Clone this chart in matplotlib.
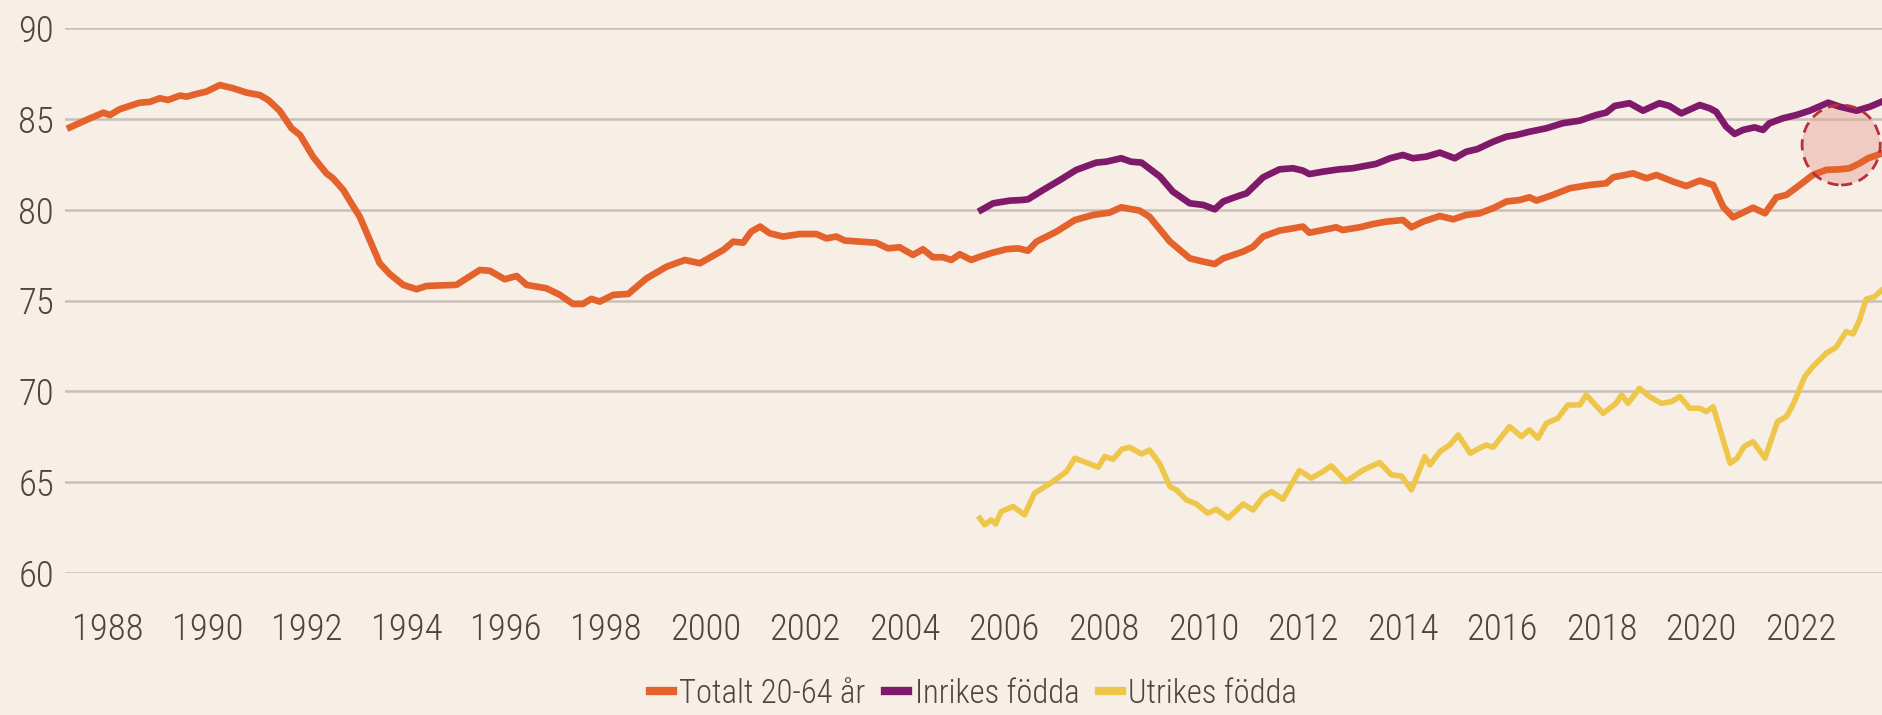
import matplotlib
matplotlib.use("Agg")
import matplotlib.pyplot as plt
from matplotlib import font_manager
from matplotlib.patches import Ellipse
from matplotlib.lines import Line2D

# Totalt 20-64 år (decimal year, percent)
tot_x = [1987.24, 1987.57, 1987.91, 1988.04, 1988.24, 1988.64, 1988.84, 1989.04, 1989.21, 1989.45,
         1989.58, 1989.78, 1989.98, 1990.25, 1990.52, 1990.79, 1991.05, 1991.22, 1991.45, 1991.69,
         1991.86, 1992.12, 1992.39, 1992.52, 1992.73, 1992.89, 1993.06, 1993.26, 1993.46, 1993.66,
         1993.93, 1994.20, 1994.40, 1994.67, 1995.00, 1995.47, 1995.67, 1995.97, 1996.21, 1996.41,
         1996.81, 1997.08, 1997.34, 1997.54, 1997.71, 1997.88, 1998.15, 1998.45, 1998.82, 1999.22,
         1999.59, 1999.89, 2000.36, 2000.56, 2000.76, 2000.92, 2001.10, 2001.29, 2001.56, 2001.90,
         2002.23, 2002.43, 2002.63, 2002.80, 2003.10, 2003.43, 2003.67, 2003.90, 2004.17, 2004.37,
         2004.57, 2004.77, 2004.94, 2005.11, 2005.34, 2005.51, 2005.78, 2006.04, 2006.28, 2006.48,
         2006.65, 2007.05, 2007.42, 2007.79, 2008.12, 2008.35, 2008.72, 2008.92, 2009.33, 2009.73,
         2010.00, 2010.23, 2010.40, 2010.80, 2011.00, 2011.20, 2011.53, 2011.80, 2012.00, 2012.13,
         2012.40, 2012.67, 2012.80, 2013.14, 2013.41, 2013.67, 2014.01, 2014.18, 2014.41, 2014.75,
         2015.02, 2015.28, 2015.55, 2015.82, 2016.09, 2016.35, 2016.55, 2016.69, 2017.02, 2017.36,
         2017.76, 2018.09, 2018.23, 2018.63, 2018.90, 2019.10, 2019.44, 2019.70, 2019.97, 2020.24,
         2020.44, 2020.64, 2020.84, 2021.04, 2021.28, 2021.51, 2021.71, 2021.98, 2022.24, 2022.51,
         2022.78, 2022.98, 2023.18, 2023.35, 2023.63]
tot_y = [84.53, 84.94, 85.34, 85.21, 85.53, 85.89, 85.93, 86.13, 86.04, 86.28,
         86.22, 86.37, 86.50, 86.86, 86.68, 86.44, 86.31, 86.04, 85.45, 84.48,
         84.11, 82.92, 82.00, 81.73, 81.08, 80.35, 79.61, 78.33, 77.05, 76.46,
         75.86, 75.62, 75.80, 75.83, 75.86, 76.68, 76.64, 76.17, 76.35, 75.86,
         75.67, 75.31, 74.81, 74.81, 75.09, 74.94, 75.31, 75.36, 76.22, 76.86,
         77.23, 77.05, 77.78, 78.24, 78.18, 78.79, 79.07, 78.70, 78.52, 78.66,
         78.66, 78.42, 78.52, 78.30, 78.24, 78.18, 77.87, 77.93, 77.51, 77.82,
         77.38, 77.38, 77.23, 77.55, 77.23, 77.41, 77.64, 77.82, 77.87, 77.74,
         78.24, 78.79, 79.43, 79.71, 79.84, 80.13, 79.95, 79.61, 78.24, 77.32,
         77.14, 77.01, 77.32, 77.69, 77.96, 78.52, 78.85, 78.97, 79.07, 78.73,
         78.88, 79.03, 78.88, 79.03, 79.21, 79.34, 79.43, 79.03, 79.34, 79.65,
         79.47, 79.71, 79.80, 80.08, 80.45, 80.53, 80.68, 80.50, 80.81, 81.18,
         81.36, 81.45, 81.78, 82.00, 81.73, 81.91, 81.54, 81.30, 81.60, 81.36,
         80.16, 79.58, 79.84, 80.11, 79.80, 80.68, 80.81, 81.36, 81.91, 82.19,
         82.22, 82.28, 82.55, 82.83, 83.10]

# Inrikes födda
inr_x = [2005.54, 2005.78, 2006.12, 2006.35, 2006.48, 2006.78, 2007.12, 2007.45, 2007.85, 2008.05,
         2008.35, 2008.55, 2008.76, 2009.13, 2009.39, 2009.73, 2010.00, 2010.23, 2010.40, 2010.67,
         2010.87, 2011.20, 2011.53, 2011.80, 2012.00, 2012.13, 2012.40, 2012.73, 2013.00, 2013.47,
         2013.75, 2014.01, 2014.21, 2014.48, 2014.75, 2015.05, 2015.28, 2015.50, 2015.82, 2016.09,
         2016.29, 2016.55, 2016.89, 2017.22, 2017.56, 2017.89, 2018.09, 2018.26, 2018.56, 2018.83,
         2019.16, 2019.36, 2019.60, 2019.97, 2020.17, 2020.30, 2020.50, 2020.67, 2020.84, 2021.07,
         2021.24, 2021.37, 2021.64, 2021.91, 2022.18, 2022.55, 2022.78, 2023.12, 2023.39, 2023.63]
inr_y = [79.98, 80.35, 80.50, 80.53, 80.57, 81.08, 81.63, 82.19, 82.59, 82.64,
         82.83, 82.64, 82.59, 81.82, 80.99, 80.35, 80.26, 80.02, 80.45, 80.72,
         80.90, 81.78, 82.22, 82.28, 82.15, 81.96, 82.09, 82.22, 82.28, 82.52,
         82.83, 83.01, 82.83, 82.92, 83.14, 82.83, 83.19, 83.33, 83.74, 84.02,
         84.11, 84.29, 84.48, 84.76, 84.90, 85.21, 85.34, 85.71, 85.86, 85.45,
         85.86, 85.71, 85.30, 85.76, 85.58, 85.39, 84.57, 84.17, 84.39, 84.53,
         84.39, 84.76, 85.03, 85.21, 85.45, 85.89, 85.67, 85.45, 85.67, 85.95]

# Utrikes födda
utr_x = [2005.51, 2005.61, 2005.74, 2005.83, 2005.94, 2006.18, 2006.41, 2006.61, 2006.98, 2007.25,
         2007.42, 2007.65, 2007.89, 2008.02, 2008.19, 2008.36, 2008.52, 2008.76, 2008.92, 2009.12,
         2009.33, 2009.46, 2009.66, 2009.86, 2010.09, 2010.26, 2010.50, 2010.80, 2011.00, 2011.20,
         2011.37, 2011.60, 2011.93, 2012.17, 2012.40, 2012.57, 2012.87, 2013.21, 2013.54, 2013.78,
         2013.98, 2014.18, 2014.45, 2014.55, 2014.75, 2014.95, 2015.12, 2015.36, 2015.55, 2015.68,
         2015.82, 2016.15, 2016.39, 2016.55, 2016.72, 2016.89, 2017.12, 2017.32, 2017.56, 2017.69,
         2018.03, 2018.29, 2018.40, 2018.53, 2018.76, 2018.96, 2019.20, 2019.40, 2019.57, 2019.77,
         2019.97, 2020.10, 2020.24, 2020.44, 2020.58, 2020.72, 2020.86, 2021.04, 2021.16, 2021.28,
         2021.53, 2021.71, 2021.84, 2022.08, 2022.24, 2022.51, 2022.71, 2022.91, 2023.05, 2023.18,
         2023.31, 2023.48, 2023.63]
utr_y = [63.02, 62.65, 62.92, 62.70, 63.38, 63.66, 63.20, 64.39, 65.03, 65.58,
         66.32, 66.08, 65.82, 66.41, 66.26, 66.81, 66.92, 66.55, 66.77, 66.04,
         64.76, 64.57, 64.02, 63.80, 63.29, 63.51, 63.02, 63.80, 63.47, 64.20,
         64.48, 64.06, 65.64, 65.22, 65.58, 65.90, 65.03, 65.67, 66.08, 65.40,
         65.34, 64.57, 66.41, 65.95, 66.68, 67.05, 67.60, 66.59, 66.87, 67.05,
         66.92, 68.06, 67.51, 67.88, 67.42, 68.24, 68.52, 69.25, 69.25, 69.80,
         68.79, 69.34, 69.80, 69.34, 70.17, 69.71, 69.34, 69.43, 69.71, 69.07,
         69.07, 68.88, 69.15, 67.32, 66.04, 66.32, 66.96, 67.23, 66.78, 66.32,
         68.33, 68.61, 69.25, 70.81, 71.36, 72.10, 72.43, 73.29, 73.16, 73.93,
         75.07, 75.21, 75.58]

year_ticks = list(range(1988, 2023, 2))
value_ticks = [60, 65, 70, 75, 80, 85, 90]
labels = ["Totalt 20-64 år", "Inrikes födda", "Utrikes födda"]

# highlight circle (centre year, centre value)
circle_x, circle_y = 2022.81, 83.56

bg = "#f7eee6"
text_col = "#4f4441"
col_tot = "#e4622b"
col_inr = "#7f1a6a"
col_utr = "#eec64a"

available = {f.name for f in font_manager.fontManager.ttflist}
family = "DejaVu Sans"
for cand in ["Roboto Condensed", "Liberation Sans Narrow", "Roboto"]:
    if cand in available:
        family = cand
        break
plt.rcParams["font.family"] = family
plt.rcParams["font.weight"] = "light"

fig = plt.figure(figsize=(18.82, 7.15), dpi=100, facecolor=bg)
ax = fig.add_axes([65 / 1882, 1 - 573 / 715, 1 - 65 / 1882, (573 - 28) / 715])
ax.set_facecolor(bg)

ax.set_xlim(1987.14, 2023.63)
ax.set_ylim(60, 90)
ax.set_xticks(year_ticks)
ax.set_yticks(value_ticks)
ax.grid(axis="y", color="#c8bfb8", linewidth=1.8)
ax.grid(axis="x", visible=False)
ax.set_axisbelow(True)
for s in ax.spines.values():
    s.set_visible(False)
ax.tick_params(axis="both", length=0, labelsize=26.5, colors=text_col)
ax.tick_params(axis="y", pad=8)
ax.tick_params(axis="x", pad=28)

# highlight, 78 x 80 px in the original
ell = Ellipse((circle_x, circle_y), width=1.57, height=4.4,
              facecolor="#e8a294", alpha=0.45, edgecolor="none", zorder=1)
ax.add_patch(ell)
ell_edge = Ellipse((circle_x, circle_y), width=1.57, height=4.4,
                   facecolor="none", edgecolor="#b8303a", linestyle=(0, (4, 2.5)),
                   linewidth=2.0, zorder=4)
ax.add_patch(ell_edge)

ax.plot(tot_x, tot_y, color=col_tot, linewidth=4.8, solid_joinstyle="round", zorder=3)
ax.plot(inr_x, inr_y, color=col_inr, linewidth=4.8, solid_joinstyle="round", zorder=3)
ax.plot(utr_x, utr_y, color=col_utr, linewidth=4.0, solid_joinstyle="round", zorder=3)

handles = [Line2D([], [], color=c, linewidth=6) for c in (col_tot, col_inr, col_utr)]
cx = (65 + 1882) / 2 / 1882
fig.legend(handles, labels, loc="center", bbox_to_anchor=(cx, 0.03), ncol=3,
           frameon=False, fontsize=23.5, labelcolor=text_col, handlelength=0.7,
           handletextpad=0.2, columnspacing=0.6, borderpad=0)

fig.savefig("out.png", dpi=100, facecolor=bg)
